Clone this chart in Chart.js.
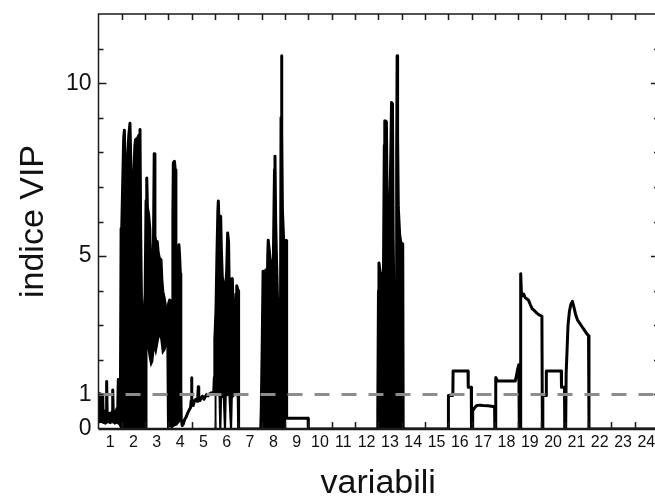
<!DOCTYPE html>
<html>
<head>
<meta charset="utf-8">
<script src="https://cdn.jsdelivr.net/npm/chart.js@4"></script>
<style>
  html, body { margin: 0; padding: 0; background: #fff; overflow: hidden; }
  #vip { position: absolute; left: 0; top: 0; }
</style>
</head>
<body>
<canvas id="vip" width="660" height="500"></canvas>
<script>
// Variable index (x) and VIP value of the trace.
// In the dense blocks the trace follows the upper edge of the black area.
const traceX = [
  0.5, 0.55, 0.68, 0.7, 0.75, 0.8, 0.83, 0.85, 0.87, 0.93, 0.98, 1.03, 1.08, 1.11, 1.13, 1.18, 1.24, 1.3, 1.33, 1.35, 1.37, 1.41, 1.44,
  1.47, 1.5, 1.58, 1.61, 1.64, 1.68, 1.73, 1.8, 1.85, 1.88, 1.91, 1.95, 2.02, 2.06, 2.09, 2.18, 2.24, 2.28, 2.31, 2.35, 2.4, 2.45, 2.5,
  2.54, 2.57, 2.6, 2.65, 2.7, 2.74, 2.8, 2.86, 2.89, 2.92, 2.96, 3.02, 3.06, 3.11, 3.18, 3.22, 3.26, 3.33, 3.38, 3.43, 3.47, 3.5,
  3.55, 3.61, 3.66, 3.69, 3.71, 3.76, 3.79, 3.82, 3.86, 3.89, 3.92, 3.95, 3.98, 4.01, 4.03, 4.05,
  4.09, 4.14, 4.2, 4.26, 4.32, 4.39, 4.45, 4.47, 4.49, 4.51, 4.56, 4.62, 4.68, 4.74, 4.76, 4.78, 4.8, 4.85, 4.9, 4.96, 5.02, 5.08,
  5.14, 5.2, 5.27, 5.34, 5.4, 5.44,
  5.47, 5.49, 5.54, 5.58, 5.62, 5.64, 5.67, 5.7, 5.74, 5.77, 5.81, 5.86, 5.91, 5.96, 6.0, 6.04, 6.08, 6.12, 6.15, 6.18, 6.24, 6.28,
  6.32, 6.37, 6.4, 6.43, 6.49, 6.51,
  6.55, 7.46,
  7.48, 7.52, 7.56, 7.62, 7.68, 7.72, 7.76, 7.78, 7.82, 7.86, 7.9, 7.95, 8.0, 8.05, 8.07, 8.1, 8.14, 8.18, 8.27, 8.31, 8.33, 8.35,
  8.37, 8.39, 8.44, 8.49, 8.55, 8.57,
  9.49, 9.5, 12.46,
  12.48, 12.51, 12.53, 12.57, 12.62, 12.68, 12.72, 12.76, 12.78, 12.83, 12.85, 12.88, 12.92, 12.99, 13.04, 13.07, 13.11, 13.14,
  13.18, 13.21, 13.27, 13.29, 13.31, 13.33, 13.36, 13.42, 13.47, 13.55, 13.57,
  13.6, 15.5,
  15.51, 15.7, 15.71, 16.35, 16.36, 16.49, 16.5, 16.53, 16.55, 16.62, 16.71, 16.85, 17.0, 17.2, 17.42, 17.49, 17.5, 17.53,
  17.54, 17.62, 18.38, 18.43, 18.47, 18.53, 18.55, 18.59, 18.61, 18.64, 18.68, 18.74, 18.8, 18.88, 18.95, 19.02, 19.1, 19.2,
  19.3, 19.4, 19.52, 19.54, 19.56, 19.7, 19.71, 20.35, 20.36, 20.49, 20.5, 20.54, 20.56, 20.6, 20.64, 20.7, 20.76, 20.83,
  20.9, 20.97, 21.05, 21.15, 21.25, 21.35, 21.45, 21.52, 21.54, 24.5
];
const traceVip = [
  1.0, 1.02, 0.98, 0.42, 0.35, 0.45, 0.55, 1.37, 0.5, 0.4, 0.45, 0.38, 0.5, 1.13, 0.55, 0.45, 0.5, 0.6, 0.75, 1.43, 0.8, 0.6, 0.9,
  5.8, 5.9, 8.4, 8.64, 7.5, 7.1, 7.6, 8.5, 8.84, 7.9, 6.9, 7.4, 7.45, 8.2, 8.37, 8.42, 8.5, 8.66, 5.6, 3.4, 3.1, 3.3, 3.9,
  6.6, 7.26, 6.4, 6.2, 5.8, 4.4, 4.1, 5.5, 7.96, 5.6, 5.38, 5.42, 5.1, 4.94, 4.9, 4.3, 3.97, 3.75, 3.5, 3.0, 2.96, 3.6,
  3.73, 3.69, 3.64, 6.2, 7.7, 7.74, 7.5, 5.2, 3.9, 3.35, 4.8, 5.33, 5.0, 4.5, 1.2, 0.3,
  0.1, 0.15, 0.28, 0.35, 0.45, 0.55, 0.62, 0.8, 1.48, 0.8, 0.68, 0.82, 0.86, 0.8, 0.95, 1.22, 0.95, 0.82, 0.9, 0.95, 0.86, 0.93,
  1.0, 0.96, 1.02, 1.05, 1.0, 1.0,
  1.5, 2.58, 3.45, 5.0, 6.3, 6.59, 5.9, 5.6, 6.15, 5.2, 4.4, 4.2, 3.9, 4.1, 4.6, 5.67, 5.4, 3.4, 3.6, 4.32, 4.35, 3.3,
  3.63, 3.3, 3.9, 4.14, 4.0, 0.02,
  0, 0,
  0.5, 2.29, 4.56, 4.4, 4.6, 3.1, 5.0, 5.46, 5.2, 4.9, 2.8, 4.85, 4.9, 7.5, 7.89, 6.0, 4.8, 3.74, 3.7, 3.8, 9.0, 10.79,
  8.5, 6.3, 5.5, 5.43, 5.45, 0.31,
  0.31, 0, 0,
  0.5, 4.0, 4.8, 4.6, 4.3, 4.5, 4.1, 8.2, 8.91, 8.9, 8.87, 6.6, 6.15, 6.15, 8.0, 9.44, 9.4, 5.5,
  3.3, 3.07, 3.1, 8.0, 10.79, 8.5, 6.4, 5.6, 5.39, 5.35, 0.02,
  0, 0,
  0.97, 0.97, 1.68, 1.68, 1.21, 1.21, 0, 0, 0.52, 0.6, 0.67, 0.69, 0.68, 0.67, 0.65, 0.65, 0, 0,
  1.49, 1.39, 1.39, 1.55, 1.7, 1.86, 0, 0, 4.49, 3.95, 3.85, 3.9, 3.8, 3.76, 3.72, 3.6, 3.48, 3.42,
  3.35, 3.3, 3.26, 0, 0.97, 0.97, 1.68, 1.68, 1.21, 1.21, 0, 0, 1.6, 2.3, 3.0, 3.4, 3.6, 3.69,
  3.5, 3.3, 3.15, 3.05, 2.95, 2.85, 2.75, 2.7, 0, 0
];

// Lower edge of the solid black blocks (null = no block there).
const lowX = [
  0.5, 0.6, 0.7, 0.8, 0.9, 1.0, 1.1, 1.2, 1.3, 1.4, 1.46, 1.6, 1.8, 2.0, 2.2, 2.4, 2.55, 2.57, 2.62, 2.68, 2.75, 2.82, 2.89,
  2.96, 3.04, 3.11, 3.18, 3.25, 3.35, 3.44, 3.47, 3.55, 3.65, 3.75, 3.85, 3.95, 4.03, 4.04,
  5.47, 5.5, 5.53, 5.6, 5.68, 5.71, 5.74, 5.77, 5.86, 5.91, 5.94, 5.97, 6.1, 6.17, 6.2, 6.23, 6.35, 6.46, 6.48, 6.51, 6.52,
  7.48, 7.8, 8.2, 8.56, 8.6,
  12.48, 13.0, 13.56
];
const lowVip = [
  0.18, 0.2, 0.17, 0.15, 0.2, 0.16, 0.2, 0.15, 0.18, 0.12, 0.03, 0.02, 0.03, 0.02, 0.03, 0.02, 0.02, 2.3, 2.4, 2.1, 1.85, 1.95, 2.4,
  2.2, 2.5, 2.75, 2.6, 2.2, 2.3, 2.6, 0.05, 0.08, 0.05, 0.1, 0.12, 0.2, 0.3, null,
  0.02, 0.02, 0.95, 1.0, 0.95, 0.02, 0.02, 0.9, 0.95, 0.02, 0.02, 0.95, 1.0, 0.02, 0.02, 0.9, 1.0, 0.95, 0.02, 0.02, null,
  0.02, 0.02, 0.02, 0.02, null,
  0.02, 0.02, 0.02
];

const soglia = 1;                       // VIP = 1 threshold
const xRange = [0.5, 24.5];
const xLabels = [1, 2, 3, 4, 5, 6, 7, 8, 9, 10, 11, 12, 13, 14, 15, 16, 17, 18, 19, 20, 21, 22, 23, 24];
const xBounds = [1.5, 2.5, 3.5, 4.5, 5.5, 6.5, 7.5, 8.5, 9.5, 10.5, 11.5, 12.5, 13.5, 14.5, 15.5, 16.5, 17.5, 18.5, 19.5, 20.5, 21.5, 22.5, 23.5];
const yLabels = [0, 1, 5, 10];
const yMajor = [5, 10];
const yMinor = [1, 2, 3, 4, 6, 7, 8, 9, 11];

const FONT = "'Liberation Sans', Arial, sans-serif";

// frame and inward tick marks, placed through the chart's scales
const frameTicks = {
  id: 'frameTicks',
  afterDraw(chart) {
    const { ctx, chartArea: a, scales: { x, y } } = chart;
    ctx.save();
    ctx.strokeStyle = '#1a1a1a';
    ctx.lineWidth = 1.5;
    ctx.beginPath();
    ctx.moveTo(a.left, a.bottom);
    ctx.lineTo(a.left, a.top);
    ctx.lineTo(a.right, a.top);
    ctx.lineTo(a.right, a.bottom);
    xBounds.forEach(v => {
      const px = Math.round(x.getPixelForValue(v)) + 0.5;
      ctx.moveTo(px, a.top); ctx.lineTo(px, a.top + 6);
      ctx.moveTo(px, a.bottom); ctx.lineTo(px, a.bottom - 7);
    });
    yMinor.forEach(v => {
      const py = Math.round(y.getPixelForValue(v)) + 0.5;
      ctx.moveTo(a.left, py); ctx.lineTo(a.left + 5, py);
      ctx.moveTo(a.right, py); ctx.lineTo(a.right - 4, py);
    });
    yMajor.forEach(v => {
      const py = Math.round(y.getPixelForValue(v)) + 0.5;
      ctx.moveTo(a.left, py); ctx.lineTo(a.left + 8, py);
      ctx.moveTo(a.right, py); ctx.lineTo(a.right - 7, py);
    });
    ctx.stroke();
    ctx.lineWidth = 2.5;
    ctx.beginPath();
    ctx.moveTo(a.left, a.bottom);
    ctx.lineTo(a.right, a.bottom);
    ctx.stroke();
    ctx.restore();
  }
};

const ctx = document.getElementById('vip').getContext('2d');
new Chart(ctx, {
  type: 'line',
  data: {
    datasets: [
      {
        // threshold, drawn on top
        data: xRange.map(x => ({ x, y: soglia })),
        borderColor: '#8c8c8c',
        borderWidth: 3,
        borderDash: [15, 12],
        pointRadius: 0,
        fill: false
      },
      {
        data: traceX.map((x, i) => ({ x, y: traceVip[i] })),
        borderColor: '#000',
        borderWidth: 3,
        borderJoinStyle: 'round',
        borderCapStyle: 'round',
        pointRadius: 0,
        tension: 0,
        fill: false
      },
      {
        data: lowX.map((x, i) => ({ x, y: lowVip[i] })),
        borderColor: '#000',
        borderWidth: 1.5,
        pointRadius: 0,
        tension: 0,
        spanGaps: false,
        fill: '-1',
        backgroundColor: '#000'
      }
    ]
  },
  options: {
    responsive: false,
    animation: false,
    layout: { padding: { top: 14, right: 2, left: 0, bottom: 0 } },
    plugins: { legend: { display: false }, tooltip: { enabled: false } },
    scales: {
      x: {
        type: 'linear',
        min: xRange[0],
        max: xRange[1],
        grid: { display: false, drawTicks: false },
        border: { display: false },
        afterBuildTicks: s => { s.ticks = xLabels.map(v => ({ value: v })); },
        afterFit: s => { s.height = 71; s.paddingLeft = 0; s.paddingRight = 0; },
        ticks: {
          autoSkip: false,
          maxRotation: 0,
          padding: 4,
          color: '#111',
          font: { family: FONT, size: 16 },
          callback: v => String(v)
        },
        title: {
          display: true,
          text: 'variabili',
          color: '#111',
          font: { family: FONT, size: 34 },
          padding: { top: 0, bottom: -4 }
        }
      },
      y: {
        min: 0,
        max: 12,
        grid: { display: false, drawTicks: false },
        border: { display: false },
        afterBuildTicks: s => { s.ticks = yLabels.map(v => ({ value: v })); },
        afterFit: s => { s.width = 98.5; s.paddingTop = 0; s.paddingBottom = 0; },
        ticks: {
          padding: 7,
          color: '#111',
          font: { family: FONT, size: 23 },
          callback: v => String(v)
        },
        title: {
          display: true,
          text: 'indice VIP',
          color: '#111',
          font: { family: FONT, size: 34 },
          padding: { top: 13, bottom: 0 }
        }
      }
    }
  },
  plugins: [frameTicks]
});
</script>
</body>
</html>
